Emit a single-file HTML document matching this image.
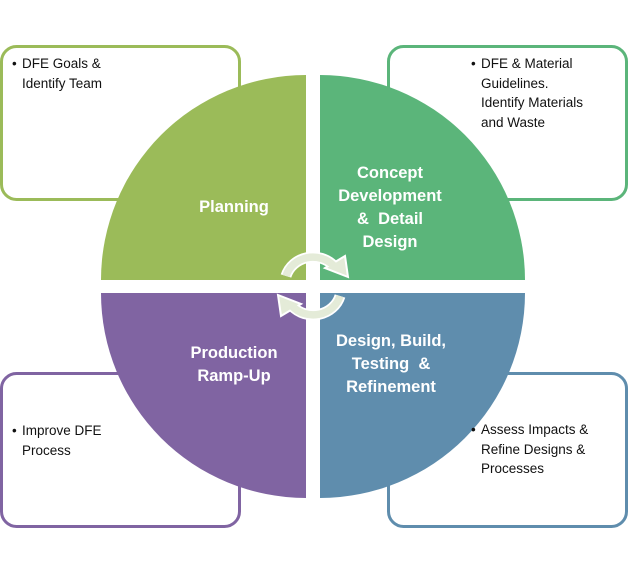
<!DOCTYPE html>
<html><head><meta charset="utf-8"><style>
body{margin:0;width:628px;height:575px;background:#fff;position:relative;overflow:hidden;font-family:"Liberation Sans",sans-serif}
.t{position:absolute;color:#fff;font-weight:bold;font-size:16.5px;line-height:23px;text-align:center;width:160px}
.b{position:absolute;color:#111;font-size:13.5px;line-height:19.5px}
.b span{position:absolute;left:-10px}
</style></head><body>
<svg width="628" height="575" style="position:absolute;left:0;top:0">
<rect x="1.5" y="46.5" width="238" height="153" rx="15" fill="#fff" stroke="#9BBB59" stroke-width="3"/>
<rect x="388.5" y="46.5" width="238" height="153" rx="15" fill="#fff" stroke="#5BB57A" stroke-width="3"/>
<rect x="1.5" y="373.5" width="238" height="153" rx="15" fill="#fff" stroke="#8064A2" stroke-width="3"/>
<rect x="388.5" y="373.5" width="238" height="153" rx="15" fill="#fff" stroke="#5F8DAD" stroke-width="3"/>
<path d="M306,280 L101,280 A205,205 0 0 1 306,75 Z" fill="#9BBB59"/>
<path d="M320,280 L320,75 A205,205 0 0 1 525,280 Z" fill="#5BB57A"/>
<path d="M320,293 L525,293 A205,205 0 0 1 320,498 Z" fill="#5F8DAD"/>
<path d="M306,293 L306,498 A205,205 0 0 1 101,293 Z" fill="#8064A2"/>
<g id="ar">
<path d="M286,276 A28,26 0 0 1 334,266" fill="none" stroke="#fff" stroke-width="11"/>
<polygon points="325,268 345,256 348,277" fill="#E4EBD8" stroke="#fff" stroke-width="2"/>
<path d="M286,276 A28,26 0 0 1 334,266" fill="none" stroke="#E4EBD8" stroke-width="7.5"/>
</g>
<use href="#ar" transform="rotate(180 313 286)"/>
</svg>
<div class="t" style="left:154px;top:196px">Planning</div>
<div class="t" style="left:310px;top:162px">Concept<br>Development<br>&amp;&nbsp; Detail<br>Design</div>
<div class="t" style="left:154px;top:342px">Production<br>Ramp-Up</div>
<div class="t" style="left:311px;top:330px">Design, Build,<br>Testing &nbsp;&amp;<br>Refinement</div>
<div class="b" style="left:22px;top:54px"><span>•</span>DFE Goals &amp;<br>Identify Team</div>
<div class="b" style="left:481px;top:54px"><span>•</span>DFE &amp; Material<br>Guidelines.<br>Identify Materials<br>and Waste</div>
<div class="b" style="left:22px;top:421px"><span>•</span>Improve DFE<br>Process</div>
<div class="b" style="left:481px;top:420px"><span>•</span>Assess Impacts &amp;<br>Refine Designs &amp;<br>Processes</div>
</body></html>
